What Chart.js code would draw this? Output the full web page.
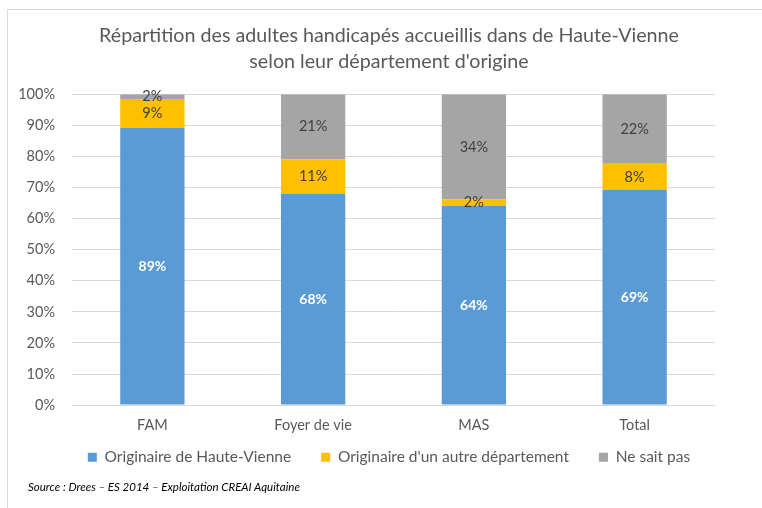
<!DOCTYPE html>
<html>
<head>
<meta charset="utf-8">
<script src="https://cdn.jsdelivr.net/npm/chart.js@4/dist/chart.umd.min.js"></script>
<style>
  html, body { margin:0; padding:0; background:#fff; overflow:hidden; }
  #wrap { position:relative; width:762px; height:508px; overflow:hidden; }
  #frame { position:absolute; left:7px; top:9px; width:800px; height:600px; border:1px solid #d9d9d9; box-sizing:border-box; }
  #c { position:absolute; left:0; top:0; }
  #src { position:absolute; left:28px; top:480px; font-family:"Lato","Liberation Sans",sans-serif; font-style:italic; font-size:11.5px; color:#000; }
</style>
</head>
<body>
<div id="wrap">
  <div id="frame"></div>
  <canvas id="c" width="778" height="508"></canvas>
  <div id="src">Source : Drees – ES 2014 – Exploitation CREAI Aquitaine</div>
</div>
<script>
const categories = ["FAM", "Foyer de vie", "MAS", "Total"];
const haute = [89.1, 67.9, 64.1, 69.2];
const autre = [9.4, 11.2, 2.0, 8.4];
const nsp = [1.5, 20.9, 33.9, 22.4];
const seriesNames = ["Originaire de Haute-Vienne", "Originaire d'un autre département", "Ne sait pas"];
const yTicks = [0,10,20,30,40,50,60,70,80,90,100];
const titleLines = ["Répartition des adultes handicapés accueillis dans de Haute-Vienne", "selon leur département d'origine"];

const FONT = "Lato, 'Liberation Sans', sans-serif";

const labelPlugin = {
  id: 'segLabels',
  afterDatasetsDraw(chart) {
    const ctx = chart.ctx;
    chart.data.datasets.forEach((ds, di) => {
      const meta = chart.getDatasetMeta(di);
      meta.data.forEach((el, i) => {
        const v = ds.data[i];
        const y = (el.y + el.base) / 2;
        ctx.save();
        ctx.textAlign = 'center';
        ctx.textBaseline = 'middle';
        if (di === 0) {
          ctx.fillStyle = '#ffffff';
          ctx.font = 'bold 14px ' + FONT;
        } else {
          ctx.fillStyle = '#404040';
          ctx.font = '14.5px ' + FONT;
        }
        ctx.fillText(Math.round(v) + '%', el.x, y);
        ctx.restore();
      });
    });
  }
};

// Bring the legend row closer to the axis labels (tighter vertical gap than horizontal item spacing)
const legendShift = {
  id: 'legendShift',
  afterLayout(chart) {
    if (chart.legend) { chart.legend.top -= 19; chart.legend.bottom -= 19; }
  }
};

new Chart(document.getElementById('c'), {
  type: 'bar',
  data: {
    labels: categories,
    datasets: [
      { label: seriesNames[0], data: haute, backgroundColor: '#5b9bd5' },
      { label: seriesNames[1], data: autre, backgroundColor: '#ffc000' },
      { label: seriesNames[2], data: nsp, backgroundColor: '#a5a5a5' }
    ]
  },
  options: {
    responsive: false,
    animation: false,
    layout: { padding: { left: 0, right: 0, top: 23, bottom: 14 } },
    datasets: { bar: { categoryPercentage: 1, barPercentage: 0.4 } },
    plugins: {
      title: {
        display: true,
        text: titleLines,
        color: '#595959',
        font: { family: FONT, size: 19.7, weight: 'normal', lineHeight: 1.3 },
        padding: { top: 0, bottom: 20 }
      },
      legend: {
        position: 'bottom',
        labels: {
          boxWidth: 9, boxHeight: 9, color: '#595959',
          font: { family: FONT, size: 15.5 },
          padding: 30
        }
      },
      tooltip: { enabled: false }
    },
    scales: {
      x: {
        stacked: true,
        grid: { display: false },
        border: { display: false },
        ticks: { color: '#595959', font: { family: FONT, size: 14.5 }, padding: 4 }
      },
      y: {
        stacked: true,
        min: 0, max: 100,
        afterBuildTicks: (s) => { s.ticks = yTicks.map(v => ({ value: v })); },
        afterFit: (s) => { s.width = 72; },
        grid: { color: '#d9d9d9', lineWidth: 1, drawTicks: false },
        border: { display: false },
        ticks: { color: '#595959', font: { family: FONT, size: 14.5 }, padding: 17, callback: v => v + '%' }
      },
      yRight: {
        position: 'right',
        min: 0, max: 100,
        afterFit: (s) => { s.width = 63; },
        grid: { display: false },
        border: { display: false },
        ticks: { display: false }
      }
    }
  },
  plugins: [labelPlugin, legendShift]
});
</script>
</body>
</html>
